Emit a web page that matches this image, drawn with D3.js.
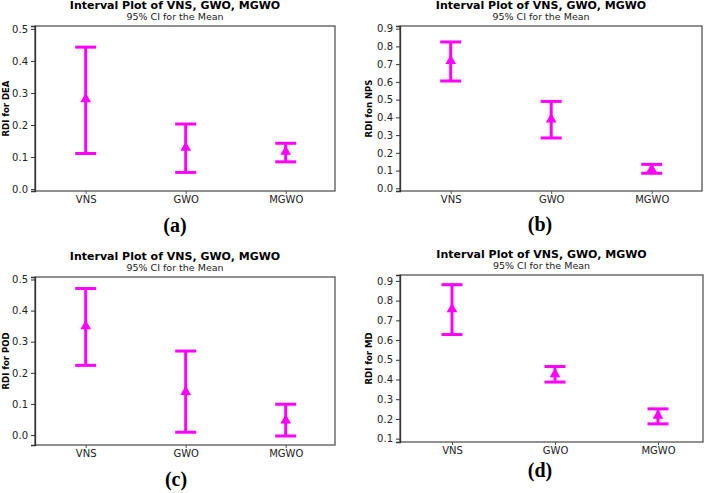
<!DOCTYPE html>
<html>
<head>
<meta charset="utf-8">
<script src="https://cdn.jsdelivr.net/npm/d3@7"></script>
<style>
  html, body { margin: 0; padding: 0; background: #fff; }
  svg { display: block; }
</style>
</head>
<body>
<svg id="chart" width="711" height="493"></svg>
<script>
// ---- data ----
const categories = ["VNS", "GWO", "MGWO"];

const deaMean = [0.281, 0.129, 0.117];
const deaLow  = [0.111, 0.052, 0.085];
const deaHigh = [0.443, 0.203, 0.143];

const npsMean = [0.718, 0.389, 0.107];
const npsLow  = [0.605, 0.284, 0.085];
const npsHigh = [0.825, 0.490, 0.135];

const podMean = [0.350, 0.139, 0.047];
const podLow  = [0.224, 0.009, -0.003];
const podHigh = [0.471, 0.270, 0.099];

const mdMean = [0.757, 0.427, 0.217];
const mdLow  = [0.628, 0.387, 0.175];
const mdHigh = [0.881, 0.466, 0.251];

const ticksHalf = [0.0, 0.1, 0.2, 0.3, 0.4, 0.5];
const ticksNine = [0.0, 0.1, 0.2, 0.3, 0.4, 0.5, 0.6, 0.7, 0.8, 0.9];
const ticksMD   = [0.1, 0.2, 0.3, 0.4, 0.5, 0.6, 0.7, 0.8, 0.9];

const titleText = "Interval Plot of VNS, GWO, MGWO";
const subtitleText = "95% CI for the Mean";
const yLabels = ["RDI for DEA", "RDI fon NPS", "RDI for POD", "RDI for MD"];
const panelLabels = ["(a)", "(b)", "(c)", "(d)"];

// ---- layout ----
const panels = [
  { mean: deaMean, low: deaLow, high: deaHigh, ticks: ticksHalf, dom: [-0.006, 0.509],
    fx: [35, 335], fy: [26, 191], px: [85.7, 285.7], titleY: 9, subY: 20, ylx: 9, labY: 232, labX: 175 },
  { mean: npsMean, low: npsLow, high: npsHigh, ticks: ticksNine, dom: [-0.015, 0.915],
    fx: [400, 702], fy: [26, 191], px: [450.7, 651.7], titleY: 9, subY: 20, ylx: 372, labY: 231, labX: 540 },
  { mean: podMean, low: podLow, high: podHigh, ticks: ticksHalf, dom: [-0.032, 0.508],
    fx: [35, 335], fy: [277, 445], px: [85.7, 285.7], titleY: 260, subY: 271, ylx: 9, labY: 486, labX: 176 },
  { mean: mdMean, low: mdLow, high: mdHigh, ticks: ticksMD, dom: [0.083, 0.930],
    fx: [400, 703], fy: [275, 442], px: [452, 658], titleY: 258, subY: 269, ylx: 372, labY: 477, labX: 540 }
];

const magenta = "#ff00ff";
const svg = d3.select("#chart");

panels.forEach((p, i) => {
  const g = svg.append("g");
  const x = d3.scalePoint().domain(categories).range(p.px);
  const y = d3.scaleLinear().domain(p.dom).range([p.fy[1], p.fy[0]]);

  // frame
  g.append("rect")
    .attr("x", p.fx[0]).attr("y", p.fy[0])
    .attr("width", p.fx[1] - p.fx[0]).attr("height", p.fy[1] - p.fy[0])
    .attr("fill", "none").attr("stroke", "#555").attr("stroke-width", 1.3);

  // y axis
  const yAxis = d3.axisLeft(y).tickValues(p.ticks).tickFormat(d3.format(".1f")).tickSize(4).tickPadding(3);
  const ya = g.append("g").attr("transform", `translate(${p.fx[0]},0)`).call(yAxis);
  ya.select(".domain").attr("stroke", "#333").attr("stroke-width", 1.3);
  ya.selectAll(".tick line").attr("stroke", "#333");
  ya.selectAll("text").attr("font-family", "DejaVu Sans").attr("font-size", 10).attr("fill", "#222");

  // x axis
  const xAxis = d3.axisBottom(x).tickSize(3).tickPadding(2);
  const xa = g.append("g").attr("transform", `translate(0,${p.fy[1]})`).call(xAxis);
  xa.select(".domain").remove();
  xa.selectAll(".tick line").attr("stroke", "#555");
  xa.selectAll("text").attr("font-family", "DejaVu Sans").attr("font-size", 10).attr("fill", "#222");

  // intervals
  const capW = 21;
  categories.forEach((c, k) => {
    const cx = x(c);
    g.append("line").attr("x1", cx).attr("x2", cx)
      .attr("y1", y(p.low[k])).attr("y2", y(p.high[k]))
      .attr("stroke", magenta).attr("stroke-width", 3);
    [p.low[k], p.high[k]].forEach(v => {
      g.append("line").attr("x1", cx - capW / 2).attr("x2", cx + capW / 2)
        .attr("y1", y(v)).attr("y2", y(v))
        .attr("stroke", magenta).attr("stroke-width", 3);
    });
    g.append("path")
      .attr("d", d3.symbol().type(d3.symbolTriangle).size(50)())
      .attr("transform", `translate(${cx},${y(p.mean[k])})`)
      .attr("fill", magenta);
  });

  // titles
  const tx = (p.fx[0] + p.fx[1]) / 2 - 10;
  g.append("text").attr("x", tx).attr("y", p.titleY)
    .attr("text-anchor", "middle").attr("font-family", "DejaVu Sans").attr("font-weight", "bold")
    .attr("font-size", 11).attr("fill", "#000").text(titleText);
  g.append("text").attr("x", tx).attr("y", p.subY)
    .attr("text-anchor", "middle").attr("font-family", "DejaVu Sans")
    .attr("font-size", 9.5).attr("fill", "#222").text(subtitleText);

  // y label
  const cyl = (p.fy[0] + p.fy[1]) / 2;
  g.append("text").attr("transform", `translate(${p.ylx},${cyl}) rotate(-90)`)
    .attr("text-anchor", "middle").attr("font-family", "DejaVu Sans").attr("font-weight", "bold")
    .attr("font-size", 8.5).attr("fill", "#000").text(yLabels[i]);

  // panel label
  g.append("text").attr("x", p.labX).attr("y", p.labY)
    .attr("text-anchor", "middle").attr("font-family", "Liberation Serif").attr("font-weight", "bold")
    .attr("font-size", 20).attr("fill", "#000").text(panelLabels[i]);
});
</script>
</body>
</html>
